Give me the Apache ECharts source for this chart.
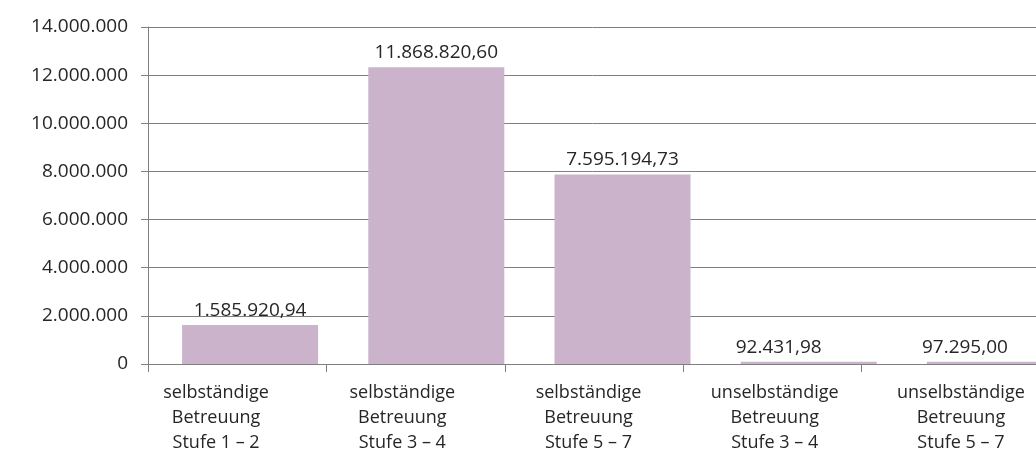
<!DOCTYPE html>
<html>
<head>
<meta charset="utf-8">
<title>Betreuung</title>
<script src="https://cdn.jsdelivr.net/npm/echarts@6/dist/echarts.min.js"></script>
<style>
    html, body { margin: 0; padding: 0; background: #fff; }
    #chart { width: 1036px; height: 452px; }
</style>
</head>
<body>
<div id="chart"></div>
<script type="text/javascript">
    // Kategorien und Werte
    var categories = [
        'selbständige\nBetreuung\nStufe 1 – 2',
        'selbständige\nBetreuung\nStufe 3 – 4',
        'selbständige\nBetreuung\nStufe 5 – 7',
        'unselbständige\nBetreuung\nStufe 3 – 4',
        'unselbständige\nBetreuung\nStufe 5 – 7'
    ];
    // Beträge wie beschriftet
    var amounts = [1585920.94, 11868820.60, 7595194.73, 92431.98, 97295.00];
    // Balkenhöhen
    var barValues = [1625000, 12330000, 7875000, 92431.98, 97295.00];
    var yTicks = [0, 2000000, 4000000, 6000000, 8000000, 10000000, 12000000, 14000000];

    var font = '"Open Sans", "Noto Sans", sans-serif';
    var lineColor = '#7f7f7f';

    // deutsches Zahlenformat 1.234.567,89
    function fmtDe(v, dec) {
        var parts = v.toFixed(dec).split('.');
        var s = parts[0].replace(/\B(?=(\d{3})+(?!\d))/g, '.');
        return dec ? s + ',' + parts[1] : s;
    }

    var chart = echarts.init(document.getElementById('chart'), null, {renderer: 'canvas'});
    var option = {
        animation: false,
        textStyle: {fontFamily: font},
        grid: [
            {left: 148, top: 27, right: -4, bottom: 88, outerBoundsMode: 'none', containLabel: false},
            {left: 157, top: 27, right: -52, bottom: 88, outerBoundsMode: 'none', containLabel: false}
        ],
        xAxis: [
            {
                gridIndex: 0,
                type: 'category',
                data: categories,
                axisLine: {lineStyle: {color: lineColor, width: 1}},
                axisTick: {show: true, length: 8, lineStyle: {color: lineColor}},
                axisLabel: {show: false}
            },
            {
                gridIndex: 1,
                type: 'category',
                data: categories,
                axisLine: {show: false},
                axisTick: {show: false},
                axisLabel: {
                    margin: 16,
                    fontSize: 18,
                    lineHeight: 25,
                    color: '#262626',
                    fontFamily: font,
                    interval: 0,
                    padding: [0, 68, 0, 0]
                }
            }
        ],
        yAxis: [
            {
                gridIndex: 0,
                type: 'value',
                min: yTicks[0],
                max: yTicks[yTicks.length - 1],
                interval: yTicks[1] - yTicks[0],
                axisLine: {show: true, lineStyle: {color: lineColor, width: 1}},
                axisTick: {show: true, length: 7, lineStyle: {color: lineColor}},
                splitLine: {show: true, lineStyle: {color: lineColor, width: 1}},
                axisLabel: {
                    margin: 20,
                    fontSize: 19,
                    color: '#262626',
                    fontFamily: font,
                    formatter: function (v) { return fmtDe(v, 0); }
                }
            },
            {
                gridIndex: 1,
                type: 'value',
                min: yTicks[0],
                max: yTicks[yTicks.length - 1],
                show: false,
                splitLine: {show: false}
            }
        ],
        series: [{
            type: 'bar',
            xAxisIndex: 1,
            yAxisIndex: 1,
            barWidth: 136,
            itemStyle: {color: '#cbb3cb'},
            data: barValues.map(function (v, i) {
                return {
                    value: v,
                    label: {offset: [i > 2 ? -30 : 0, 0]}
                };
            }),
            label: {
                show: true,
                position: 'top',
                distance: 5,
                fontSize: 19,
                color: '#262626',
                fontFamily: font,
                formatter: function (p) { return fmtDe(amounts[p.dataIndex], 2); }
            }
        }]
    };
    chart.setOption(option);
</script>
</body>
</html>
